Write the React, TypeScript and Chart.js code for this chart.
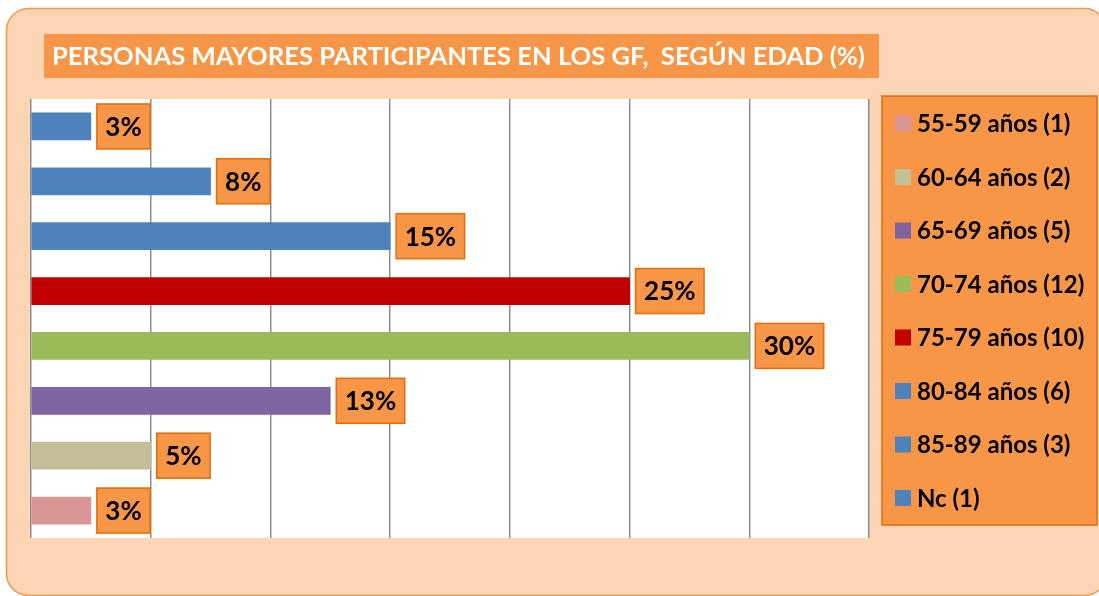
import React, { useEffect, useRef } from "react";
import { Chart, registerables } from "chart.js";

Chart.register(...registerables);

const TITLE = "PERSONAS MAYORES PARTICIPANTES EN LOS GF,  SEGÚN EDAD (%)";
const categories = [
  "55-59 años (1)",
  "60-64 años (2)",
  "65-69 años (5)",
  "70-74 años (12)",
  "75-79 años (10)",
  "80-84 años (6)",
  "85-89 años (3)",
  "Nc (1)",
];
const percentValues = [2.5, 5, 12.5, 30, 25, 15, 7.5, 2.5];
const valueLabels = ["3%", "5%", "13%", "30%", "25%", "15%", "8%", "3%"];
const barColors = [
  "#D99694",
  "#C4BD97",
  "#8064A2",
  "#9BBB59",
  "#C00000",
  "#4F81BD",
  "#4F81BD",
  "#4F81BD",
];
const FONT = "Lato, 'Open Sans', sans-serif";

function roundRect(ctx: CanvasRenderingContext2D, x: number, y: number, w: number, h: number, r: number) {
  ctx.beginPath();
  ctx.moveTo(x + r, y);
  ctx.lineTo(x + w - r, y);
  ctx.arcTo(x + w, y, x + w, y + r, r);
  ctx.lineTo(x + w, y + h - r);
  ctx.arcTo(x + w, y + h, x + w - r, y + h, r);
  ctx.lineTo(x + r, y + h);
  ctx.arcTo(x, y + h, x, y + h - r, r);
  ctx.lineTo(x, y + r);
  ctx.arcTo(x, y, x + r, y, r);
  ctx.closePath();
}

const decorPlugin = {
  id: "decor",
  beforeDraw(chart: any) {
    const ctx = chart.ctx as CanvasRenderingContext2D;
    const { chartArea } = chart;
    ctx.save();
    ctx.fillStyle = "#ffffff";
    ctx.fillRect(0, 0, chart.width, chart.height);
    roundRect(ctx, 6.5, 8.5, 1100, 587, 22);
    ctx.fillStyle = "#FCD5B5";
    ctx.fill();
    ctx.strokeStyle = "#F79646";
    ctx.lineWidth = 1.5;
    ctx.stroke();
    // title box
    ctx.fillStyle = "#F79646";
    ctx.fillRect(44, 34, 835, 44);
    ctx.fillStyle = "#ffffff";
    ctx.font = `bold 25.6px ${FONT}`;
    ctx.textBaseline = "middle";
    ctx.textAlign = "left";
    ctx.fillText(TITLE, 52, 57);
    // plot background
    ctx.fillStyle = "#ffffff";
    ctx.fillRect(chartArea.left, chartArea.top, chartArea.right - chartArea.left, chartArea.bottom - chartArea.top);
    ctx.restore();
  },
  afterDatasetsDraw(chart: any) {
    const ctx = chart.ctx as CanvasRenderingContext2D;
    const meta = chart.getDatasetMeta(0);
    ctx.save();
    ctx.font = `bold 26px ${FONT}`;
    ctx.textBaseline = "middle";
    ctx.textAlign = "center";
    meta.data.forEach((bar: any, i: number) => {
      const text = valueLabels[i];
      const tw = ctx.measureText(text).width;
      const w = tw + 17;
      const h = 45;
      const x = bar.x + 6;
      const y = bar.y - h / 2;
      ctx.fillStyle = "#F79646";
      ctx.fillRect(x, y, w, h);
      ctx.strokeStyle = "#E46C0A";
      ctx.lineWidth = 1.5;
      ctx.strokeRect(x, y, w, h);
      ctx.fillStyle = "#000000";
      ctx.fillText(text, x + w / 2, bar.y + 1);
    });
    ctx.restore();
  },
  afterDraw(chart: any) {
    const ctx = chart.ctx as CanvasRenderingContext2D;
    ctx.save();
    ctx.fillStyle = "#F79646";
    ctx.fillRect(882, 96, 215, 429);
    ctx.strokeStyle = "#E46C0A";
    ctx.lineWidth = 1.5;
    ctx.strokeRect(882, 96, 215, 429);
    ctx.font = `bold 24px ${FONT}`;
    ctx.textBaseline = "middle";
    ctx.textAlign = "left";
    categories.forEach((label, i) => {
      const cy = 123.5 + i * 53.5;
      ctx.fillStyle = barColors[i];
      ctx.fillRect(895, cy - 8, 16, 16);
      ctx.fillStyle = "#000000";
      ctx.fillText(label, 917, cy + 1);
    });
    ctx.restore();
  },
};

export default function App() {
  const canvasRef = useRef<HTMLCanvasElement | null>(null);
  useEffect(() => {
    if (!canvasRef.current) return;
    const chart = new Chart(canvasRef.current, {
      type: "bar",
      data: {
        labels: categories,
        datasets: [
          {
            data: percentValues,
            backgroundColor: barColors,
            barThickness: 27,
          },
        ],
      },
      options: {
        indexAxis: "y",
        responsive: false,
        animation: false,
        devicePixelRatio: 1,
        layout: { padding: { left: 31, right: 230, top: 99, bottom: 58 } },
        plugins: { legend: { display: false }, title: { display: false }, tooltip: { enabled: false } },
        scales: {
          x: {
            min: 0,
            max: 35,
            ticks: { display: false, stepSize: 5 },
            grid: { color: "#8E8E8E", lineWidth: 1.5, drawTicks: false },
            border: { display: false },
          },
          y: { display: false, reverse: true },
        },
      },
      plugins: [decorPlugin],
    } as any);
    return () => chart.destroy();
  }, []);
  return (
    <div style={{ position: "absolute", left: 0, top: 0, width: 1099, height: 596 }}>
      <canvas ref={canvasRef} width={1099} height={596} style={{ display: "block" }} />
    </div>
  );
}
